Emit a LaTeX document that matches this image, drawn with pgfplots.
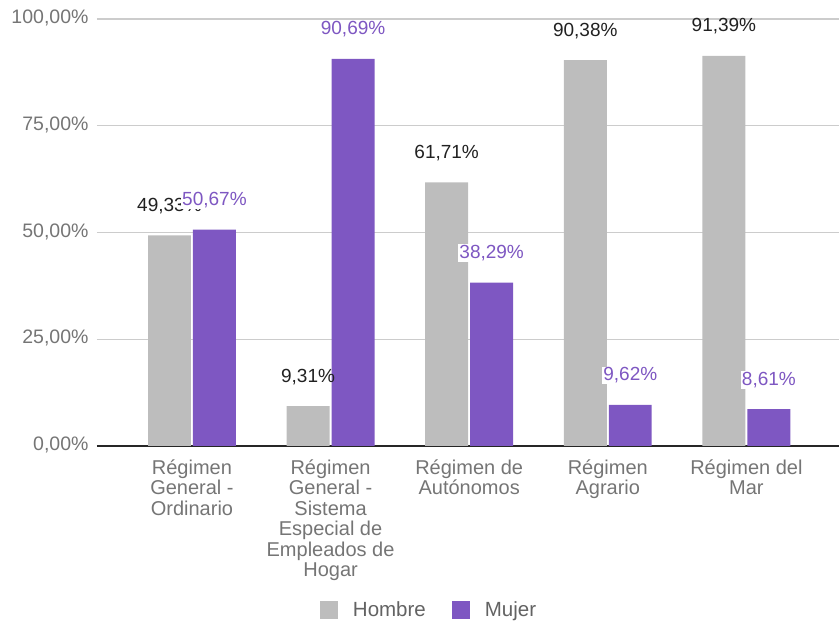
\documentclass[border=0pt]{standalone}
\usepackage{pgfplots}
\pgfplotsset{compat=1.18}
\usepackage{fontspec}
\setmainfont{Liberation Sans}
\definecolor{hombre}{HTML}{BDBDBD}
\definecolor{mujer}{HTML}{7E57C2}
\definecolor{gridc}{HTML}{CCCCCC}
\definecolor{tickc}{HTML}{757575}
\definecolor{lblc}{HTML}{212121}
\begin{document}
\begin{tikzpicture}
\begin{axis}[
  name=ax,
  scale only axis, width=742pt, height=427pt,
  xmin=-0.685, xmax=4.668, ymin=0, ymax=100,
  ytick={0,25,50,75,100},
  xtick={0,1,2,3,4},
  xticklabels={{Régimen\\General -\\Ordinario},{Régimen\\General -\\Sistema\\Especial de\\Empleados de\\Hogar},{Régimen de\\Autónomos},{Régimen\\Agrario},{Régimen del\\Mar}},
  axis lines*=left,
  y axis line style={draw=none},
  x axis line style={draw=black!85, line width=1.3pt},
  major tick length=0pt,
  ymajorgrids, grid style={gridc, line width=1.1pt},
  /pgf/number format/assume math mode=true,
  yticklabel={\pgfmathprintnumber[fixed,fixed zerofill,precision=2,use comma]{\tick}\%},
  yticklabel style={text=tickc, font=\fontsize{19.5}{21}\selectfont, xshift=-5pt, yshift=1pt},
  xticklabel style={text=tickc, align=center, font=\fontsize{20}{20.5}\selectfont, yshift=-10pt},
  legend style={at={(0.4475,-0.3845)}, anchor=center, draw=none, legend columns=2,
    font=\fontsize{20.5}{22}\selectfont, text=tickc!85!black,
    /tikz/every odd column/.append style={column sep=13pt},
    /tikz/every even column/.append style={column sep=24pt}},
  legend image code/.code={\fill[#1] (0pt,-9pt) rectangle (18pt,9pt);},
  nodes near coords={\pgfmathprintnumber[fixed,fixed zerofill,precision=2,use comma]{\pgfplotspointmeta}\%},
  every node near coord/.append style={anchor=base, yshift=24pt, font=\fontsize{19}{21}\selectfont},
]
\addplot[ybar, bar width=0.31, bar shift=-0.162, fill=hombre, draw=none,
  every node near coord/.append style={text=lblc, xshift=-22.5pt}]
  coordinates {(0,49.33) (1,9.31) (2,61.71) (3,90.38) (4,91.39)};
\addlegendentry{Hombre}
\addplot[ybar, bar width=0.31, bar shift=0.162, fill=mujer, draw=none,
  every node near coord/.append style={text=mujer, xshift=22.5pt, fill=white, inner sep=1pt}]
  coordinates {(0,50.67) (1,90.69) (2,38.29) (3,9.62) (4,8.61)};
\addlegendentry{Mujer}
\end{axis}
\pgfresetboundingbox
\useasboundingbox ([xshift=-97pt,yshift=-175pt]ax.south west) rectangle ([yshift=19pt]ax.north east);
\end{tikzpicture}
\end{document}
